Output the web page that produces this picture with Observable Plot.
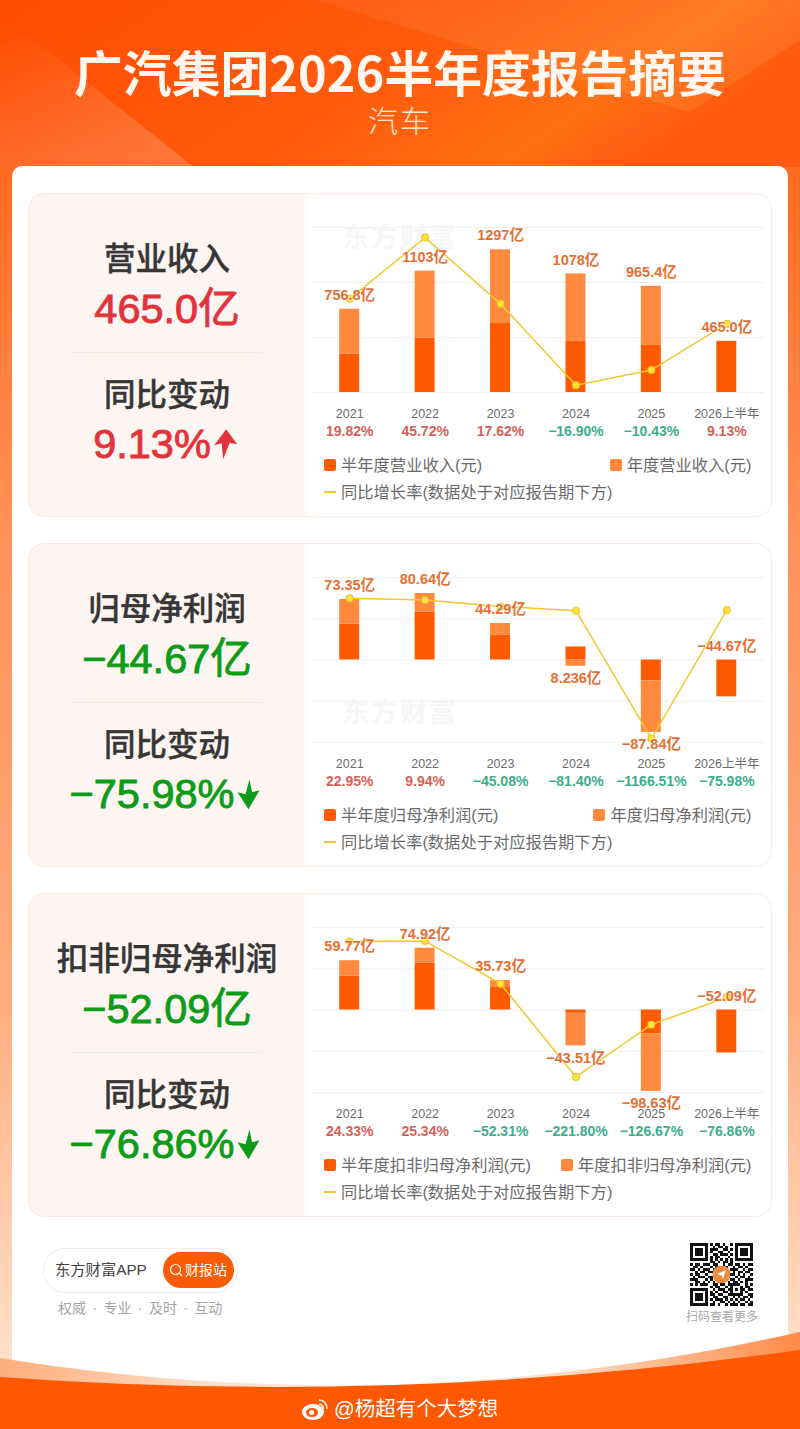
<!DOCTYPE html>
<html lang="zh">
<head>
<meta charset="utf-8">
<script src="https://cdn.jsdelivr.net/npm/d3@7"></script>
<script src="https://cdn.jsdelivr.net/npm/@observablehq/plot@0.6"></script>
<style>
html,body{margin:0;padding:0;background:#fff;}
#page{position:relative;width:800px;height:1429px;overflow:hidden;font-family:"Liberation Sans","Noto Sans CJK SC",sans-serif;}
#page>svg.bg{position:absolute;left:0;top:0;}
.abs{position:absolute;white-space:nowrap;line-height:1;}
.c{transform:translate(-50%,-50%);}
.panel{position:absolute;left:28px;width:742px;height:322px;border:1px solid #fbeadf;border-radius:16px;overflow:hidden;background:linear-gradient(90deg,#fdf5f2 0,#fdf5f2 272px,#fff 282px);}
.mid{transform:translateY(-50%);}
.flex{display:flex;align-items:center;gap:2px;}
</style>
</head>
<body>
<div id="page">
<svg class="bg" width="800" height="1429" viewBox="0 0 800 1429">
  <defs>
    <linearGradient id="side" x1="0" y1="0" x2="0" y2="1">
      <stop offset="0" stop-color="#ff4e05"/>
      <stop offset="0.11" stop-color="#ff6a1e"/>
      <stop offset="0.37" stop-color="#ff9058"/>
      <stop offset="0.7" stop-color="#ffad80"/>
      <stop offset="0.95" stop-color="#ffe0c8"/>
    </linearGradient>
    <linearGradient id="head" x1="0" y1="0" x2="1" y2="0.3">
      <stop offset="0" stop-color="#ff4d04"/>
      <stop offset="0.55" stop-color="#ff5a0c"/>
      <stop offset="0.85" stop-color="#ff7014"/>
      <stop offset="1" stop-color="#ff5a12"/>
    </linearGradient>
    <linearGradient id="tri1" x1="0" y1="0" x2="0.6" y2="1">
      <stop offset="0" stop-color="#fff" stop-opacity="0"/>
      <stop offset="1" stop-color="#fff" stop-opacity="0.18"/>
    </linearGradient>
    <linearGradient id="tri2" x1="0" y1="0" x2="0.8" y2="1">
      <stop offset="0" stop-color="#fff" stop-opacity="0.08"/>
      <stop offset="1" stop-color="#ffb040" stop-opacity="0.3"/>
    </linearGradient>
    <linearGradient id="pale" x1="0" y1="0" x2="1" y2="0">
      <stop offset="0" stop-color="#ffad7c"/>
      <stop offset="0.25" stop-color="#ffdcc4"/>
      <stop offset="0.48" stop-color="#fff8f2"/>
      <stop offset="0.72" stop-color="#ffd8ba"/>
      <stop offset="1" stop-color="#ff8a48"/>
    </linearGradient>
  </defs>
  <rect width="800" height="1429" fill="url(#side)"/>
  <rect width="800" height="167" fill="url(#head)"/>
  <polygon points="0,45 25,33 194,167 0,167" fill="url(#tri1)"/>
  <polygon points="316,0 689,112 800,40 800,0" fill="url(#tri2)" opacity="0.6"/>
  <rect x="12" y="166" width="776" height="1300" rx="10" fill="#fff"/>
  <path d="M0 1358 Q400 1423 800 1332 L800 1429 L0 1429 Z" fill="url(#pale)"/>
  <path d="M0 1377 Q400 1406 800 1350 L800 1429 L0 1429 Z" fill="#ff5800"/>
</svg>
<div class="abs c" style="left:400px;top:71px;font-family:'Noto Sans CJK SC',sans-serif;font-size:48.8px;font-weight:700;color:#fff7f0;">广汽集团2026半年度报告摘要</div>
<div class="abs c" style="left:400px;top:119px;font-family:'Noto Sans CJK SC',sans-serif;font-size:30px;font-weight:300;color:#ffe6d4;letter-spacing:2px;">汽车</div>
</div>
<script>
const periods = ["2021","2022","2023","2024","2025","2026上半年"];

const revenueHalf = [351, 493, 627, 469, 433, 465.0];
const revenueYear = [756.8, 1103, 1297, 1078, 965.4, 465.0];
const revenueRate = [19.82, 45.72, 17.62, -16.90, -10.43, 9.13];
const revenueLabels = ["756.8亿","1103亿","1297亿","1078亿","965.4亿","465.0亿"];

const profitHalf = [43.6, 58.2, 29.9, 15.8, -25.3, -44.67];
const profitYear = [73.35, 80.64, 44.29, 8.236, -87.84, -44.67];
const profitRate = [22.95, 9.94, -45.08, -81.40, -1166.51, -75.98];
const profitLabels = ["73.35亿","80.64亿","44.29亿","8.236亿","−87.84亿","−44.67亿"];

const coreHalf = [41.2, 57, 27.4, -4, -29, -52.09];
const coreYear = [59.77, 74.92, 35.73, -43.51, -98.63, -52.09];
const coreRate = [24.33, 25.34, -52.31, -221.80, -126.67, -76.86];
const coreLabels = ["59.77亿","74.92亿","35.73亿","−43.51亿","−98.63亿","−52.09亿"];

const rateText = r => (r < 0 ? "−" : "") + Math.abs(r).toFixed(2) + "%";

const ORANGE = "#ff5a00", LIGHT = "#ff8a3d", YELLOW = "#f0c830";
const page = document.getElementById("page");

function el(html, left, top, style, cls) {
  const d = document.createElement("div");
  d.className = "abs " + (cls || "");
  d.style.cssText = `left:${left}px;top:${top}px;` + (style || "");
  d.innerHTML = html;
  page.appendChild(d);
  return d;
}

const arrowUp = c => `<svg width="24" height="30" viewBox="0 0 24 30"><path d="M13 0 L24 15 L16.5 13.5 L10 30 L8.5 14 L1 16 Z" fill="${c}"/></svg>`;
const arrowDown = c => `<svg width="24" height="30" viewBox="0 0 24 30"><path d="M13 0 L15.5 13 L23 11 L12 30 L1 13 L9 15 Z" fill="${c}"/></svg>`;

function drawChart(top, opt) {
  const {yDomain, yTicks, rateDomain, half, year, rates, labels} = opt;
  const toY = d3.scaleLinear(rateDomain, yDomain);
  const rows = periods.map((period, i) => {
    const rest = year[i] - half[i];
    return {
      period, rate: rates[i], label: labels[i],
      lineY: toY(rates[i]),
      below: rest < -1e-6,
      topY: Math.max(half[i], 0) + Math.max(rest, 0),
      lowY: Math.min(half[i], 0) + rest
    };
  });
  const bars = periods.flatMap((period, i) => [
    {period, kind: "半年度", value: half[i]},
    {period, kind: "年度", value: year[i] - half[i]}
  ]);
  const labelFont = {fontSize: 14.5, fontWeight: 600, fill: "#e56f34", stroke: "#fff", strokeWidth: 1.5, strokeOpacity: 0.55};
  const chart = Plot.plot({
    width: 470, height: 245,
    marginTop: 32, marginBottom: 48, marginLeft: 6.5, marginRight: 11,
    style: {background: "transparent", overflow: "visible", fontFamily: '"Liberation Sans","Noto Sans CJK SC",sans-serif'},
    x: {domain: periods, paddingInner: 0.735, paddingOuter: 0.3675, round: false, label: null},
    y: {domain: yDomain, label: null, axis: null},
    color: {domain: ["半年度","年度"], range: [ORANGE, LIGHT]},
    marks: [
      Plot.ruleY(yTicks, {stroke: "#f3f1ef", strokeWidth: 1}),
      Plot.barY(bars, {x: "period", y: "value", fill: "kind", order: null}),
      Plot.line(rows, {x: "period", y: "lineY", stroke: YELLOW, strokeWidth: 1.5}),
      Plot.dot(rows, {x: "period", y: "lineY", r: 3.4, fill: "#ffe23a", stroke: "#eec92a", strokeWidth: 1.2}),
      Plot.text(rows.filter(d => !d.below), {x: "period", y: "topY", text: "label", dy: -14, ...labelFont}),
      Plot.text(rows.filter(d => d.below), {x: "period", y: "lowY", text: "label", dy: 12, ...labelFont}),
      Plot.axisX({tickSize: 0, tickPadding: 17, fontSize: 12.5, color: "#6b6b6b", label: null}),
      Plot.text(rows, {x: "period", y: () => yDomain[0], text: d => rateText(d.rate), dy: 39,
        fontSize: 14, fontWeight: 600, fill: d => d.rate < 0 ? "#3cae8c" : "#d65f5a"})
    ]
  });
  chart.style.position = "absolute";
  chart.style.left = "305px";
  chart.style.top = top + "px";
  page.appendChild(chart);
}

function drawPanel(p) {
  const t = p.top; // panel outer top
  const box = document.createElement("div");
  box.className = "panel";
  box.style.top = t + "px";
  page.appendChild(box);
  if (p.watermark != null) el("东方财富", 342, t + p.watermark, "font-size:27px;font-weight:700;color:#000;opacity:.03;letter-spacing:2px;", "mid");
  const rise = p.rate >= 0;
  const col = p.color;
  const headFont = "font-family:'Noto Sans CJK SC',sans-serif;font-size:31.5px;font-weight:500;color:#363636;-webkit-text-stroke:0.4px #363636;";
  const valFont = `font-weight:400;-webkit-text-stroke:0.9px ${col};color:${col};`;
  el(p.name, 167, t + 64, headFont, "c");
  el(p.value, 167, t + 116, `font-size:41.5px;${valFont}`, "c");
  el("", 72, t + 159, "width:190px;height:1px;background:#f6e7df;");
  el("同比变动", 167, t + 200, headFont, "c");
  el(`<span>${rateText(p.rate)}</span>${rise ? arrowUp(col) : arrowDown(col)}`, 165, t + 251, `font-size:41.5px;${valFont}`, "c flex");
  drawChart(t + 2, p);
  // legend
  const ls = "font-size:16.3px;color:#6b6b6b;";
  el("", 324, t + 266, `width:12px;height:12px;border-radius:2px;background:${ORANGE};`);
  el(p.legendHalf, 341, t + 272, ls, "mid");
  const right = el(p.legendYear, 0, t + 272, ls + "left:auto;right:48.5px;", "mid");
  const w = right.getBoundingClientRect().width;
  el("", 800 - 48.5 - w - 17, t + 266, `width:12px;height:12px;border-radius:2px;background:${LIGHT};`);
  el("", 324, t + 298, `width:12px;height:2px;background:${YELLOW};`);
  el("同比增长率(数据处于对应报告期下方)", 341, t + 299, ls, "mid");
}

const RED = "#e2323a", GREEN = "#0d9c18";
drawPanel({top: 193, watermark: 45, name: "营业收入", value: "465.0亿", rate: 9.13, color: RED,
  yDomain: [0, 1500], yTicks: [0, 500, 1000, 1500], rateDomain: [-20, 50],
  half: revenueHalf, year: revenueYear, rates: revenueRate, labels: revenueLabels,
  legendHalf: "半年度营业收入(元)", legendYear: "年度营业收入(元)"});
drawPanel({top: 543, watermark: 170, name: "归母净利润", value: "−44.67亿", rate: -75.98, color: GREEN,
  yDomain: [-100, 100], yTicks: [-100, -50, 0, 50, 100], rateDomain: [-1200, 200],
  half: profitHalf, year: profitYear, rates: profitRate, labels: profitLabels,
  legendHalf: "半年度归母净利润(元)", legendYear: "年度归母净利润(元)"});
drawPanel({top: 893, name: "扣非归母净利润", value: "−52.09亿", rate: -76.86, color: GREEN,
  yDomain: [-100, 100], yTicks: [-100, -50, 0, 50, 100], rateDomain: [-250, 50],
  half: coreHalf, year: coreYear, rates: coreRate, labels: coreLabels,
  legendHalf: "半年度扣非归母净利润(元)", legendYear: "年度扣非归母净利润(元)"});

// footer
el("", 43, 1248, "width:193px;height:43px;border:1px solid #f0ece8;border-radius:23px;background:#fff;");
el("东方财富APP", 55, 1270, "font-size:15.3px;color:#444;", "mid");
el("", 163, 1252, "width:71px;height:36px;border-radius:18px;background:#f95b06;");
el(`<svg width="14" height="14" viewBox="0 0 14 14"><circle cx="6.5" cy="6.5" r="5" fill="none" stroke="#fff" stroke-width="1.2"/><path d="M10 10L13 13" stroke="#fff" stroke-width="1.2"/></svg>`, 169, 1263, "");
el("财报站", 185, 1270, "font-size:14px;color:#fff;", "mid");
el("权威 · 专业 · 及时 · 互动", 58, 1308, "font-size:14px;color:#a5a5a5;word-spacing:2.5px;", "mid");
el("扫码查看更多", 722, 1317, "font-size:12px;color:#a8a8a8;", "c");

const qr = ["1111111010110100101111111","1000001001011010001000001","1011101011100110101011101","1011101010011001001011101","1011101001101110101011101","1000001010110001001000001","1111111010101010101111111","0000000011010110100000000","1011011101100101101101011","0110100010111010010110100","1101011101000110111001011","0010110110100001010110110","1011001001000010110101001","0101110110000001001011010","1110001010100110110100111","0011010101011001011010100","1010111001101101111100101","0000000010110010100010110","1111111001011101101011011","1000001010100110100010100","1011101011011001111110011","1011101001100110010101101","1011101010111010101011010","1000001001001101010100101","1111111011010010111011011"];
let cells = "";
qr.forEach((row, y) => [...row].forEach((c, x) => { if (c === "1") cells += `<rect x="${x}" y="${y}" width="1" height="1"/>`; }));
el(`<svg width="63" height="63" viewBox="0 0 25 25" shape-rendering="crispEdges" fill="#111">${cells}</svg><svg style="position:absolute;left:22px;top:22px" width="19" height="19" viewBox="0 0 19 19"><rect x="1" y="1" width="17" height="17" rx="7" fill="#f08a3c"/><path d="M5 9L14 5L11 14L9.5 10.5Z" fill="#fff"/></svg>`, 690, 1243, "");

// signature
el(`<svg width="28" height="24" viewBox="0 0 28 24"><ellipse cx="12" cy="15" rx="11" ry="8" fill="#fff"/><ellipse cx="11" cy="15.5" rx="6" ry="4.5" fill="#ff5800"/><circle cx="10.5" cy="15.5" r="2.5" fill="#fff"/><path d="M18 3a8 8 0 0 1 8 9M18 7a4 4 0 0 1 4 5" fill="none" stroke="#fff" stroke-width="1.6"/></svg>`, 301, 1397, "");
el("@杨超有个大梦想", 334, 1409, "font-size:20.5px;color:#fff;", "mid");
</script>
</body>
</html>
